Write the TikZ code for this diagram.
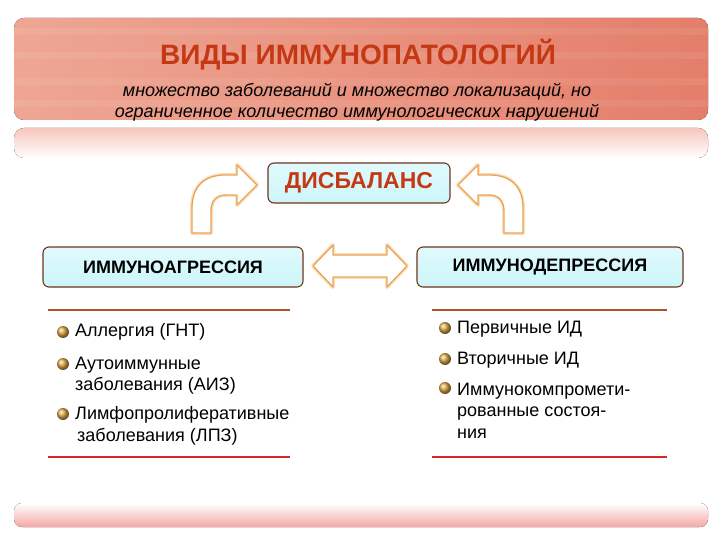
\documentclass[tikz,border=0pt]{standalone}
\usepackage{fontspec}
\setmainfont{Liberation Sans}
\definecolor{bandL}{RGB}{238,166,148}
\definecolor{bandR}{RGB}{228,126,106}
\definecolor{titlered}{RGB}{196,56,20}
\definecolor{boxcyan}{RGB}{204,246,250}
\definecolor{boxedge}{RGB}{112,52,30}
\definecolor{arrowor}{RGB}{234,164,80}
\definecolor{rulebrown}{RGB}{176,84,40}
\definecolor{rulered}{RGB}{214,40,40}
\definecolor{ballgold}{RGB}{226,172,70}
\definecolor{reflpink}{RGB}{246,198,188}
\definecolor{footpink}{RGB}{244,168,166}

\begin{document}
\begin{tikzpicture}[x=1pt,y=-1pt,
  box/.style={draw=boxedge,line width=1.1pt,rounded corners=6pt,
    top color=boxcyan!60,bottom color=boxcyan},
  boxtext/.style={font=\bfseries\fontsize{18}{20}\selectfont},
  glow/.style={draw=arrowor!35,line width=4pt,line join=round},
  blockarrow/.style={draw=arrowor,line width=1.3pt,fill=white,line join=round},
  itemtext/.style={font=\fontsize{18}{21.5}\selectfont,align=left,inner sep=0pt,anchor=west},
  bullet/.style={ball color=ballgold}]
\useasboundingbox (0,0) rectangle (720,540);

% title band and its reflection
\fill[left color=bandL,right color=bandR,rounded corners=10pt] (14,18) rectangle (708,120);
\begin{scope}
\clip[rounded corners=10pt] (14,18) rectangle (708,120);
\foreach \yy in {28,52,78,100}
  \fill[white,opacity=.07] (14,\yy) rectangle (708,\yy+7);
\end{scope}
\fill[top color=reflpink,bottom color=white,rounded corners=10pt] (14,128) rectangle (708,158);

\node[font=\bfseries\fontsize{28}{30}\selectfont,text=titlered] (title) at (358,55) {ВИДЫ ИММУНОПАТОЛОГИЙ};
\node[font=\itshape\fontsize{18}{21}\selectfont,align=center] (sub) at (357,102)
  {множество заболеваний и множество локализаций, но\\ограниченное количество иммунологических нарушений};

% boxes
\node[box,minimum width=182pt,minimum height=40pt,font=\bfseries\fontsize{23}{26}\selectfont,text=titlered] (dis) at (359,183) {ДИСБАЛАНС};
\node[box,boxtext,minimum width=260pt,minimum height=40pt] (agr) at (173,267) {ИММУНОАГРЕССИЯ};
\node[box,boxtext,minimum width=266pt,minimum height=40pt] (dep) at (550,267) {ИММУНОДЕПРЕССИЯ};

% block arrows
\foreach \st in {glow,blockarrow} {
  \draw[\st] (192,233) -- (192,208) .. controls (192,186) and (205,175) .. (225,175)
    -- (237,175) -- (237,165) -- (257,185) -- (237,205) -- (237,195) -- (226,195)
    .. controls (216,195) and (211,201) .. (211,211) -- (211,233) -- cycle;
  \draw[\st] (523,233) -- (523,208) .. controls (523,186) and (510,175) .. (490,175)
    -- (478,175) -- (478,165) -- (458,185) -- (478,205) -- (478,195) -- (489,195)
    .. controls (499,195) and (504,201) .. (504,211) -- (504,233) -- cycle;
  \draw[\st] (313,266) -- (333,245) -- (333,255) -- (387,255) -- (387,245) -- (407,266)
    -- (387,287) -- (387,277) -- (333,277) -- (333,287) -- cycle;
}

% left list
\draw[rulebrown,line width=2pt] (48,310) -- (290,310);
\draw[rulered,line width=2pt] (48,457) -- (290,457);
\shade[bullet] (63,332) circle (6);
\shade[bullet] (63,364) circle (6);
\shade[bullet] (63,414) circle (6);
\node[itemtext] (a1) at (75,332) {Аллергия (ГНТ)};
\node[itemtext] (a2) at (75,375.5) {Аутоиммунные\\заболевания (АИЗ)};
\node[itemtext] (a3) at (75,426) {Лимфопролиферативные\\\hspace*{2pt}заболевания (ЛПЗ)};

% right list
\draw[rulebrown,line width=2pt] (432,310) -- (667,310);
\draw[rulered,line width=2pt] (432,457) -- (667,457);
\shade[bullet] (445,328) circle (6);
\shade[bullet] (445,359) circle (6);
\shade[bullet] (445,388) circle (6);
\node[itemtext] (d1) at (457,329) {Первичные ИД};
\node[itemtext] (d2) at (457,360) {Вторичные ИД};
\node[itemtext] (d3) at (457,410.5) {Иммунокомпромети-\\рованные состоя-\\ния};

% footer band
\fill[top color=white,bottom color=footpink,rounded corners=8pt] (14,503) rectangle (708,527);
\end{tikzpicture}
\end{document}
